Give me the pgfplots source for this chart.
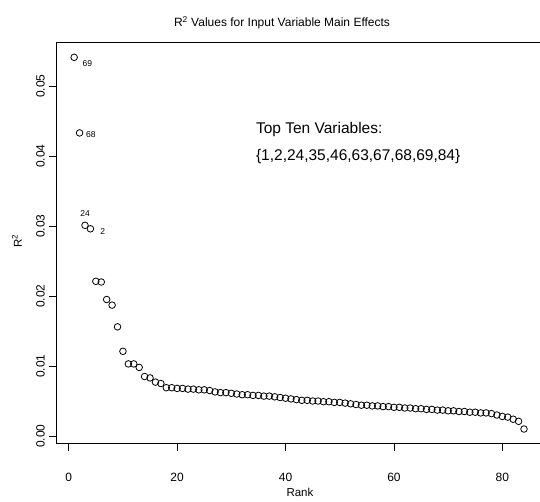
\documentclass[border=0pt]{standalone}
\usepackage{fontspec}
\setmainfont{Liberation Sans}
\usepackage{pgfplots}
\usepackage{pgfplotstable}
\pgfplotsset{compat=1.18}
\pgfplotstableread{
rank r2
1 0.0541
2 0.0433
3 0.0301
4 0.0296
5 0.0221
6 0.0220
7 0.0195
8 0.0187
9 0.0156
10 0.0121
11 0.0103
12 0.0103
13 0.0098
14 0.0085
15 0.0083
16 0.0077
17 0.0075
18 0.0069
19 0.0069
20 0.0068
21 0.0068
22 0.0067
23 0.0067
24 0.0066
25 0.0066
26 0.0065
27 0.0063
28 0.0062
29 0.0062
30 0.0061
31 0.0060
32 0.0059
33 0.0059
34 0.0058
35 0.0058
36 0.0057
37 0.0057
38 0.0056
39 0.0055
40 0.0054
41 0.0053
42 0.0052
43 0.0051
44 0.0051
45 0.0050
46 0.0050
47 0.0049
48 0.0049
49 0.0048
50 0.0048
51 0.0047
52 0.0046
53 0.0045
54 0.0044
55 0.0044
56 0.0043
57 0.0043
58 0.0042
59 0.0042
60 0.0041
61 0.0041
62 0.0040
63 0.0040
64 0.0039
65 0.0039
66 0.0038
67 0.0038
68 0.0037
69 0.0037
70 0.0036
71 0.0036
72 0.0035
73 0.0035
74 0.0034
75 0.0034
76 0.0033
77 0.0033
78 0.0032
79 0.0030
80 0.0028
81 0.0027
82 0.0024
83 0.0021
84 0.0010
}\rsq
\begin{document}
\begin{tikzpicture}
\useasboundingbox (-56bp,-58.5bp) rectangle (484bp,443.5bp);
\begin{axis}[
  at={(0,0)}, anchor=south west,
  scale only axis, width=484bp, height=400.8bp,
  xmin=-2.35, xmax=86.95, ymin=-0.00107, ymax=0.05619,
  axis line style={line width=0.9bp},
  xtick={0,20,40,60,80},
  ytick={0,0.01,0.02,0.03,0.04,0.05},
  tick align=outside, major tick length=7bp,
  tick style={black, line width=0.8bp},
  xtick pos=bottom, ytick pos=left,
  scaled y ticks=false,
  /pgf/number format/assume math mode=true,
  ticklabel style={font=\fontsize{12bp}{14bp}\selectfont, inner sep=0pt},
  yticklabel style={rotate=90, anchor=south, /pgf/number format/fixed, /pgf/number format/precision=2, /pgf/number format/fixed zerofill},
  yticklabel shift=4bp,
  xticklabel shift=22bp,
  clip=false,
]
\addplot[only marks, mark=o, mark size=3.3bp, mark options={line width=0.8bp, black}] table[x=rank, y=r2] {\rsq};
\node[anchor=base west, inner sep=0pt, font=\fontsize{8.5bp}{10bp}\selectfont] at (axis cs:2.546,0.052857) {69};
\node[anchor=base west, inner sep=0pt, font=\fontsize{8.5bp}{10bp}\selectfont] at (axis cs:3.155,0.042614) {68};
\node[anchor=base west, inner sep=0pt, font=\fontsize{8.5bp}{10bp}\selectfont] at (axis cs:2.103,0.031329) {24};
\node[anchor=base west, inner sep=0pt, font=\fontsize{8.5bp}{10bp}\selectfont] at (axis cs:5.793,0.028857) {2};
\node[anchor=base west, inner sep=0pt, font=\fontsize{15.5bp}{18bp}\selectfont] at (axis cs:34.52,0.04324) {Top Ten Variables:};
\node[anchor=base west, inner sep=0pt, font=\fontsize{15.5bp}{18bp}\selectfont] at (axis cs:34.52,0.03929) {\{1,2,24,35,46,63,67,68,69,84\}};
\node[font=\fontsize{12bp}{14bp}\selectfont] at (axis description cs:0.467,1.049) {R\textsuperscript{2} Values for Input Variable Main Effects};
\node[font=\fontsize{11.5bp}{14bp}\selectfont] at (axis description cs:0.504,-0.121) {Rank};
\node[rotate=90, font=\fontsize{11.5bp}{14bp}\selectfont] at (axis description cs:-0.0806,0.505) {R\textsuperscript{2}};
\end{axis}
\end{tikzpicture}
\end{document}
